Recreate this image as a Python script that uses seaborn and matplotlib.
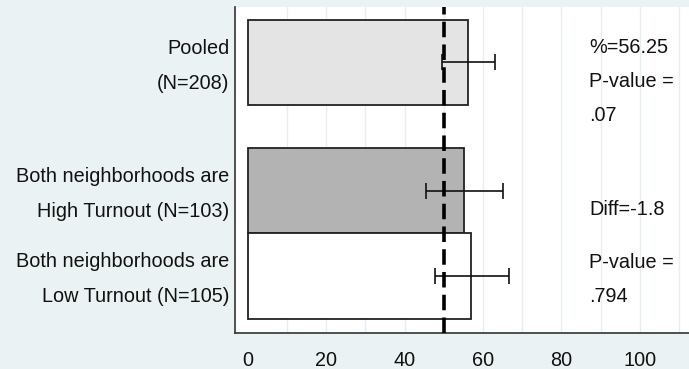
import numpy as np
import pandas as pd
import matplotlib
matplotlib.use("Agg")
import matplotlib.pyplot as plt
import matplotlib.transforms as mtransforms
import seaborn as sns

# data
groups = ["Pooled", "High", "Low"]
labels = ["Pooled\n(N=208)",
          "Both neighborhoods are\nHigh Turnout (N=103)",
          "Both neighborhoods are\nLow Turnout (N=105)"]
pct = [56.25, 55.2, 57.0]
ci_lo = [49.5, 45.6, 47.7]
ci_hi = [63.0, 65.0, 66.7]
bar_colors = ["#e4e4e4", "#b3b3b3", "#ffffff"]
ref_value = 50
notes_pooled = ["%=56.25", "P-value =", ".07"]
notes_diff = ["Diff=-1.8"]
notes_p = ["P-value =", ".794"]

# layout
ypos = [0.0, 1.51, 2.51]
bg = "#eaf2f3"
fs = 14.3

sns.set_style("white")
plt.rcParams["font.family"] = ["Liberation Sans", "DejaVu Sans"]
plt.rcParams["font.size"] = fs
plt.rcParams["text.color"] = "#111111"
plt.rcParams["xtick.labelcolor"] = "#111111"
plt.rcParams["ytick.labelcolor"] = "#111111"

df = pd.DataFrame({"group": groups, "pos": ypos, "pct": pct})

fig = plt.figure(figsize=(6.89, 3.69), dpi=100, facecolor=bg)
ax = fig.add_axes([235 / 689, 1 - 333 / 369, 1 - 235 / 689, 326 / 369])
ax.set_facecolor("white")

# grid
for gx in range(10, 120, 10):
    ax.axvline(gx, color="#e6eef0", lw=1.0, zorder=0)

sns.barplot(data=df, x="pct", y="pos", hue="group", palette=dict(zip(groups, bar_colors)),
            orient="h", native_scale=True, width=1.0, dodge=False, errorbar=None,
            edgecolor="#222222", linewidth=1.3, legend=False, ax=ax, zorder=2)

# confidence intervals
for i in range(len(groups)):
    ax.errorbar([(ci_lo[i] + ci_hi[i]) / 2], [ypos[i]],
                xerr=[[(ci_hi[i] - ci_lo[i]) / 2], [(ci_hi[i] - ci_lo[i]) / 2]],
                fmt="none", ecolor="#111111", elinewidth=1.2, capsize=5.5, capthick=1.2, zorder=3)

ax.axvline(ref_value, color="black", lw=2.6, linestyle=(0, (4.3, 2)), zorder=4)

# side notes
for k, t in enumerate(notes_pooled):
    ax.text(87, ypos[0] - 0.17 + 0.4 * k, t, va="center", ha="left", fontsize=fs)
ax.text(87, ypos[1] + 0.22, notes_diff[0], va="center", ha="left", fontsize=fs)
for k, t in enumerate(notes_p):
    ax.text(87, ypos[2] - 0.16 + 0.4 * k, t, va="center", ha="left", fontsize=fs)

ax.set_xlim(-3.2, 112.5)
ax.set_ylim(3.18, -0.65)
ax.set_xticks([0, 20, 40, 60, 80, 100])
ax.set_xticks(range(10, 120, 20), minor=True)
ax.set_yticks(ypos)
ax.set_yticklabels(labels, linespacing=2.05)
ax.tick_params(axis="y", length=0, pad=4, labelsize=fs)
ax.tick_params(axis="x", which="major", length=5, width=1, color="#333333", pad=8, labelsize=fs)
ax.tick_params(axis="x", which="minor", length=4, width=1, color="#333333")
ax.set_xlabel("")
ax.set_ylabel("")

# nudge the two-line labels up a little
shift = mtransforms.ScaledTranslation(0, 6.5 / 100, fig.dpi_scale_trans)
for lab in ax.get_yticklabels():
    lab.set_transform(lab.get_transform() + shift)

for s in ["top", "right"]:
    ax.spines[s].set_visible(False)
for s in ["left", "bottom"]:
    ax.spines[s].set_color("#333333")
    ax.spines[s].set_linewidth(1.2)

fig.savefig("out.png", dpi=100, facecolor=bg)
